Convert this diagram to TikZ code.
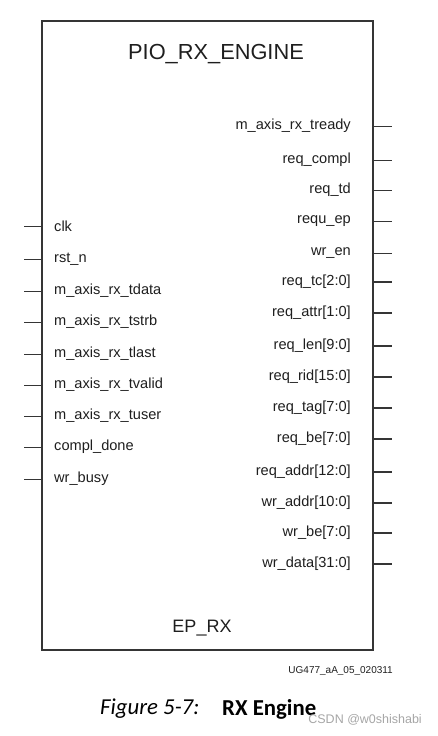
\documentclass[tikz,border=0pt]{standalone}
\usepackage{fontspec}
\setmainfont{Liberation Sans}
\newfontfamily\capfont{Carlito}
\definecolor{ink}{HTML}{1E1E1E}
\begin{document}
\begin{tikzpicture}[x=1pt,y=-1pt,
  lbl/.style={inner sep=0pt,font=\fontsize{14.6}{16}\selectfont,text=ink},
  rlbl/.style={lbl,anchor=east},
  llbl/.style={lbl,anchor=west},
  pin/.style={draw=ink!90,line width=0.9pt},
  bus/.style={draw=ink!90,line width=1.6pt}]
\useasboundingbox (0,0) rectangle (437,736);
\node[draw=ink!90,line width=1.5pt,inner sep=0pt,outer sep=0pt,anchor=north west,
      minimum width=331pt,minimum height=629pt] (box) at (42,21) {};
\node[text=ink,font=\fontsize{21.8}{24}\selectfont] (title) at (216,54) {PIO\_RX\_ENGINE};
\node[text=ink,font=\fontsize{18}{20}\selectfont] (ep) at (202,628) {EP\_RX};
% left pins
\foreach \n/\y/\t in {l1/226/clk,l2/259/rst\_n,l3/291/m\_axis\_rx\_tdata,l4/322/m\_axis\_rx\_tstrb,
  l5/354/m\_axis\_rx\_tlast,l6/385/m\_axis\_rx\_tvalid,l7/416/m\_axis\_rx\_tuser,l8/447/compl\_done,l9/479/wr\_busy}{
  \coordinate (\n a) at (24,\y);
  \coordinate (\n b) at (42,\y);
  \draw[pin] (\n a) -- (\n b);
  \node[llbl] (\n t) at (54,\y) {\t};
}
% right single-bit pins
\foreach \n/\y/\t in {r1/126/m\_axis\_rx\_tready,r2/160/req\_compl,r3/190/req\_td,r4/221/requ\_ep,r5/253/wr\_en}{
  \coordinate (\n a) at (373,\y);
  \coordinate (\n b) at (392,\y);
  \draw[pin] (\n a) -- (\n b);
  \node[rlbl] (\n t) at (351,\y) {\t};
}
% right bus pins
\foreach \n/\y/\t in {r6/282/req\_tc[2:0],r7/313/req\_attr[1:0],r8/346/req\_len[9:0],r9/377/req\_rid[15:0],
  r10/408/req\_tag[7:0],r11/439/req\_be[7:0],r12/472/req\_addr[12:0],r13/503/wr\_addr[10:0],
  r14/533/wr\_be[7:0],r15/564/wr\_data[31:0]}{
  \coordinate (\n a) at (373,\y);
  \coordinate (\n b) at (392,\y);
  \draw[bus] (\n a) -- (\n b);
  \node[rlbl] (\n t) at (351,\y) {\t};
}
\node[anchor=east,inner sep=0pt,text=ink,font=\fontsize{10}{12}\selectfont] (ug) at (393,671) {UG477\_aA\_05\_020311};
\node[anchor=west,inner sep=0pt,font=\capfont\fontsize{22.8}{24}\selectfont] (cap1) at (100,709) {\itshape Figure 5-7:};
\node[anchor=west,inner sep=0pt,font=\capfont\fontsize{22.8}{24}\selectfont] (cap2) at (222,709) {\bfseries RX Engine};
\node[anchor=east,inner sep=0pt,text=black!35,font=\fontsize{12.5}{14}\selectfont] (wm) at (422,720) {CSDN @w0shishabi};
\end{tikzpicture}
\end{document}
